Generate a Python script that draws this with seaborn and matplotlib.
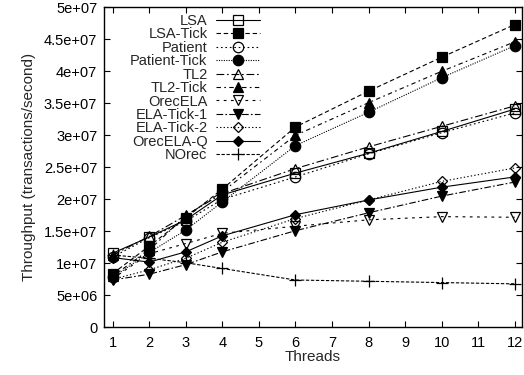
import matplotlib
matplotlib.use("Agg")
import matplotlib.pyplot as plt
import matplotlib.ticker as mticker
import seaborn as sns
import pandas as pd

threads = [1, 2, 3, 4, 6, 8, 10, 12]

lsa = [1.16e7, 1.41e7, 1.68e7, 2.07e7, 2.41e7, 2.72e7, 3.06e7, 3.41e7]
lsa_tick = [8.4e6, 1.27e7, 1.71e7, 2.16e7, 3.13e7, 3.69e7, 4.22e7, 4.73e7]
patient = [1.10e7, 1.40e7, 1.66e7, 2.00e7, 2.35e7, 2.71e7, 3.04e7, 3.35e7]
patient_tick = [7.8e6, 1.17e7, 1.52e7, 1.96e7, 2.84e7, 3.36e7, 3.90e7, 4.40e7]
tl2 = [1.13e7, 1.42e7, 1.75e7, 2.09e7, 2.48e7, 2.82e7, 3.14e7, 3.46e7]
tl2_tick = [8.0e6, 1.21e7, 1.74e7, 2.12e7, 3.00e7, 3.51e7, 4.00e7, 4.46e7]
orecela = [7.6e6, 1.15e7, 1.31e7, 1.47e7, 1.58e7, 1.68e7, 1.73e7, 1.72e7]
ela_tick_1 = [7.4e6, 8.3e6, 9.8e6, 1.18e7, 1.51e7, 1.79e7, 2.05e7, 2.27e7]
ela_tick_2 = [7.5e6, 9.0e6, 1.08e7, 1.33e7, 1.70e7, 1.99e7, 2.28e7, 2.49e7]
orecela_q = [1.09e7, 1.02e7, 1.18e7, 1.43e7, 1.76e7, 1.99e7, 2.19e7, 2.35e7]
norec = [1.13e7, 1.08e7, 1.01e7, 9.2e6, 7.4e6, 7.2e6, 7.0e6, 6.8e6]

series_names = ["LSA", "LSA-Tick", "Patient", "Patient-Tick", "TL2", "TL2-Tick",
                "OrecELA", "ELA-Tick-1", "ELA-Tick-2", "OrecELA-Q", "NOrec"]
series_values = [lsa, lsa_tick, patient, patient_tick, tl2, tl2_tick,
                 orecela, ela_tick_1, ela_tick_2, orecela_q, norec]

x_ticks = list(range(1, 13))
y_ticks = [i * 5e6 for i in range(11)]

styles = {
    "LSA":          dict(marker="s", mfc="none", ms=7.5, ls="-"),
    "LSA-Tick":     dict(marker="s", mfc="black", ms=7.5, ls=(0, (4, 2.5))),
    "Patient":      dict(marker="o", mfc="none", ms=7.5, ls=(0, (1.5, 2.5))),
    "Patient-Tick": dict(marker="o", mfc="black", ms=7.5, ls=(0, (1, 1.2))),
    "TL2":          dict(marker="^", mfc="none", ms=7.5, ls=(0, (7, 2.5, 1.5, 2.5))),
    "TL2-Tick":     dict(marker="^", mfc="black", ms=7.5, ls=(0, (4, 3, 1.5, 3))),
    "OrecELA":      dict(marker="v", mfc="none", ms=7.5, ls=(0, (2.5, 4))),
    "ELA-Tick-1":   dict(marker="v", mfc="black", ms=7.5, ls=(0, (6, 2, 1.5, 2))),
    "ELA-Tick-2":   dict(marker="D", mfc="none", ms=5.5, ls=(0, (1.2, 2))),
    "OrecELA-Q":    dict(marker="D", mfc="black", ms=5.5, ls="-"),
    "NOrec":        dict(marker="+", mfc="black", ms=9, ls=(0, (3, 1.5))),
}

sns.set_theme(style="ticks")
plt.rcParams["font.family"] = ["Liberation Sans", "DejaVu Sans"]
plt.rcParams["font.size"] = 10.5

fig = plt.figure(figsize=(5.24, 3.75), dpi=100)
ax = fig.add_axes([0.199, 0.127, 0.7965, 0.8535])

for name, vals in zip(series_names, series_values):
    st = styles[name]
    df = pd.DataFrame({"Threads": threads, "Throughput": vals})
    sns.lineplot(data=df, x="Threads", y="Throughput", ax=ax, color="black",
                 marker=st["marker"], markerfacecolor=st["mfc"], mec="black",
                 mew=0.9, markersize=st["ms"], linestyle=st["ls"], linewidth=0.8,
                 label=name)

ax.set_xlim(0.77, 12.19)
ax.set_ylim(0, 5e7)
ax.set_xticks(x_ticks)
ax.set_yticks(y_ticks)
ax.yaxis.set_major_formatter(mticker.FuncFormatter(lambda v, p: "%g" % v))
ax.tick_params(direction="in", length=4, width=0.8, top=True, right=True,
               labelsize=10.5, colors="black")
ax.tick_params(axis="x", pad=6)
ax.tick_params(axis="y", pad=5)
for s in ax.spines.values():
    s.set_visible(True)
    s.set_linewidth(1.0)
    s.set_color("black")

ax.set_xlabel("Threads", fontsize=11, labelpad=0.5)
ax.set_ylabel("Throughput (transactions/second)", fontsize=11, labelpad=6)

leg = ax.legend(loc="upper right", bbox_to_anchor=(0.373, 0.979), frameon=False,
                markerfirst=False, fontsize=10.5, handlelength=3.0,
                handletextpad=0.6, labelspacing=-0.04, borderpad=0,
                borderaxespad=0)
for col in leg._legend_handle_box.get_children():
    col.align = "right"

fig.savefig("out.png", dpi=100)
